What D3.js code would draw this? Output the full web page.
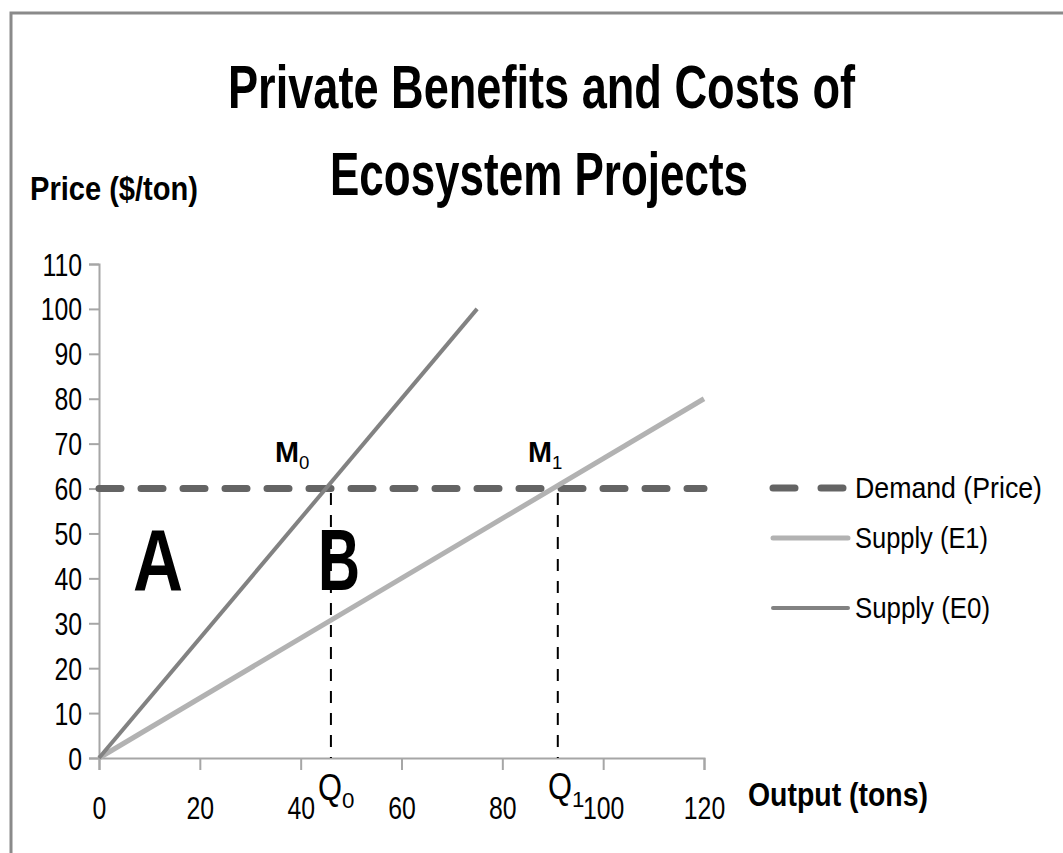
<!DOCTYPE html>
<html lang="en">
<head>
<meta charset="utf-8">
<title>Private Benefits and Costs of Ecosystem Projects</title>
<script src="https://cdnjs.cloudflare.com/ajax/libs/d3/7.8.5/d3.min.js"></script>
<style>
  body { margin: 0; background: #fff; }
  text { font-family: "Liberation Sans", Arial, sans-serif; fill: #000; }
</style>
</head>
<body>
<div id="container"></div>
<script>
// data
var xTicks = [0, 20, 40, 60, 80, 100, 120];
var yTicks = [0, 10, 20, 30, 40, 50, 60, 70, 80, 90, 100, 110];
var demand = [[0, 60], [120, 60]];
var supplyE1 = [[0, 0], [120, 80]];
var supplyE0 = [[0, 0], [75, 100]];
var q0 = 46, q1 = 91;          // dashed drop lines
var series = [
  {name: "Demand (Price)", data: demand, color: "#646464", width: 7, dash: "22,20", len: 187},
  {name: "Supply (E1)", data: supplyE1, color: "#b2b2b2", width: 5, dash: null, len: 133},
  {name: "Supply (E0)", data: supplyE0, color: "#828282", width: 4, dash: null, len: 135}
];

var w = 1063, h = 853;
var svg = d3.select("#container").append("svg").attr("width", w).attr("height", h);

// frame
svg.append("path").attr("d", "M11,853 V13 H1063").attr("fill", "none").attr("stroke", "#8a8a8a").attr("stroke-width", 3);

var x = d3.scaleLinear().domain([0, 120]).range([99, 704]);
var y = d3.scaleLinear().domain([0, 110]).range([758, 264]);

// axes
var xAxis = svg.append("g").attr("transform", "translate(0," + y(0) + ")")
  .call(d3.axisBottom(x).tickValues(xTicks).tickSize(12).tickPadding(0));
var yAxis = svg.append("g").attr("transform", "translate(" + x(0) + ",0)")
  .call(d3.axisLeft(y).tickValues(yTicks).tickSize(10).tickPadding(0));
[xAxis, yAxis].forEach(function(g) {
  g.select(".domain").attr("stroke", "#a6a6a6").attr("stroke-width", 2);
  g.selectAll(".tick line").attr("stroke", "#a6a6a6").attr("stroke-width", 2);
  g.selectAll(".tick text").style("font-size", "31px").attr("fill", "#000");
});
// narrow the tick digits (Calibri-like)
xAxis.selectAll(".tick text").attr("x", null).attr("y", null).attr("dy", null)
  .attr("transform", "translate(0,61) scale(0.8,1)");
yAxis.selectAll(".tick text").attr("x", null).attr("dy", null)
  .attr("transform", "translate(-17,11) scale(0.8,1)");

// dashed drop lines
[q0, q1].forEach(function(q) {
  svg.append("line").attr("x1", x(q)).attr("x2", x(q)).attr("y1", y(59)).attr("y2", y(0))
    .attr("stroke", "#000").attr("stroke-width", 2).attr("stroke-dasharray", "12,10");
});

var line = d3.line().x(function(d) { return x(d[0]); }).y(function(d) { return y(d[1]); });
series.forEach(function(s) {
  svg.append("path").datum(s.data).attr("d", line).attr("fill", "none")
    .attr("stroke", s.color).attr("stroke-width", s.width)
    .attr("stroke-dasharray", s.dash).attr("stroke-linecap", s.dash ? "round" : "butt");
});

function label(px, py, str, size, bold, len) {
  var t = svg.append("text").attr("x", px).attr("y", py).style("font-size", size + "px")
    .style("font-weight", bold ? "bold" : "normal").text(str);
  if (len) t.attr("textLength", len).attr("lengthAdjust", "spacingAndGlyphs");
  return t;
}

// titles
label(228, 108, "Private Benefits and Costs of", 61, true, 627);
label(330, 195, "Ecosystem Projects", 61, true, 418);
label(30, 200, "Price ($/ton)", 34, true, 168);
label(748, 806, "Output (tons)", 34, true, 180);

// area labels
label(133, 590, "A", 88, true, 50);
label(318, 590, "B", 88, true, 42);

// point labels with subscripts
function sub(px, py, main, s, size, bold, w1) {
  var t = svg.append("text").attr("x", px).attr("y", py).style("font-size", size + "px")
    .style("font-weight", bold ? "bold" : "normal");
  t.append("tspan").attr("textLength", w1).attr("lengthAdjust", "spacingAndGlyphs").text(main);
  t.append("tspan").attr("dy", size * 0.22).style("font-size", (size * 0.62) + "px").style("font-weight", "normal").text(s);
}
sub(275, 462, "M", "0", 30, true, 24);
sub(528, 462, "M", "1", 30, true, 24);
sub(318, 800, "Q", "0", 36, false, 24);
sub(548, 799, "Q", "1", 36, false, 24);

// legend
var lg = svg.append("g");
series.forEach(function(s, i) {
  var ly = [488, 538, 608][i];
  lg.append("line").attr("x1", 773).attr("x2", 848).attr("y1", ly).attr("y2", ly)
    .attr("stroke", s.color).attr("stroke-width", s.width)
    .attr("stroke-dasharray", s.dash ? "22,26" : null).attr("stroke-linecap", "round");
  lg.append("text").attr("x", 855).attr("y", ly + 10)
    .style("font-size", "29px").attr("textLength", s.len).attr("lengthAdjust", "spacingAndGlyphs")
    .text(s.name);
});
</script>
</body>
</html>
